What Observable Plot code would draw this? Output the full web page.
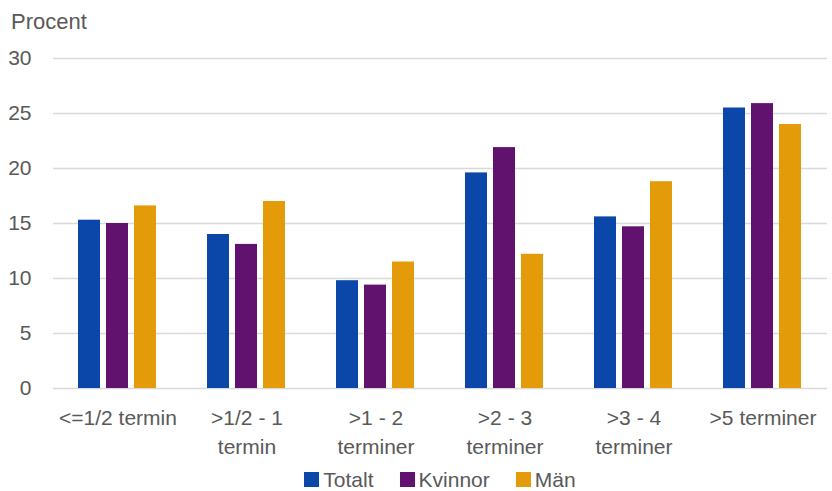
<!DOCTYPE html>
<html>
<head>
<meta charset="utf-8">
<script src="https://cdn.jsdelivr.net/npm/d3@7"></script>
<script src="https://cdn.jsdelivr.net/npm/@observablehq/plot@0.6"></script>
<style>
  body { margin: 0; background: #fff; font-family: 'Liberation Sans', Arial, sans-serif; color: #595959; }
  #wrap { width: 832px; height: 491px; position: relative; overflow: hidden; }
  #title { height: 44px; line-height: 44px; font-size: 22px; padding-left: 11px; }
  #legend { position: absolute; left: 51px; top: 469px; width: 778px; height: 21px; line-height: 21px; display: flex; justify-content: center; align-items: center; font-size: 21px; }
  .item { display: flex; align-items: center; margin: 0 13px; line-height: 21px; }
  .sw { width: 15px; height: 15px; margin-right: 4px; }
  svg { display: block; }
</style>
</head>
<body>
<div id="wrap">
  <div id="title">Procent</div>
  <div id="chart"></div>
  <div id="legend"></div>
</div>
<script>
const groups = ["<=1/2 termin", ">1/2 - 1\ntermin", ">1 - 2\nterminer", ">2 - 3\nterminer", ">3 - 4\nterminer", ">5 terminer"];
const series = ["Totalt", "Kvinnor", "Män"];
const totalt = [15.3, 14.0, 9.8, 19.6, 15.6, 25.5];
const kvinnor = [15.0, 13.1, 9.4, 21.9, 14.7, 25.9];
const man = [16.6, 17.0, 11.5, 12.2, 18.8, 24.0];
const colors = ["#0a47a9", "#61126e", "#e39b09"];
const yTicks = [0, 5, 10, 15, 20, 25, 30];

const valuesBySeries = [totalt, kvinnor, man];
const data = [];
groups.forEach((g, i) => series.forEach((s, j) => data.push({group: g, series: s, value: valuesBySeries[j][i]})));

const chart = Plot.plot({
  width: 832,
  height: 424,
  marginTop: 14,
  marginBottom: 80,
  marginLeft: 51,
  marginRight: 3,
  style: {fontFamily: "'Liberation Sans', Arial, sans-serif", fontSize: "21px", color: "#595959", background: "white"},
  fx: {domain: groups, padding: 0, label: null},
  x: {domain: series, paddingInner: 0.2, paddingOuter: 0.86, axis: null},
  y: {domain: [0, 30], ticks: yTicks, label: null},
  color: {domain: series, range: colors},
  marks: [
    Plot.ruleY(yTicks, {stroke: "#d9d9d9", strokeWidth: 1.5}),
    Plot.barY(data, {fx: "group", x: "series", y: "value", fill: "series"}),
    Plot.axisY({ticks: yTicks, tickSize: 0, tickPadding: 22, label: null}),
    Plot.axisFx({anchor: "bottom", tickSize: 0, tickPadding: 16, lineHeight: 1.38, label: null})
  ]
});
document.getElementById("chart").appendChild(chart);

const legend = document.getElementById("legend");
series.forEach((s, j) => {
  const it = document.createElement("div");
  it.className = "item";
  const sw = document.createElement("div");
  sw.className = "sw";
  sw.style.background = colors[j];
  const t = document.createElement("span");
  t.textContent = s;
  it.appendChild(sw);
  it.appendChild(t);
  legend.appendChild(it);
});
</script>
</body>
</html>
